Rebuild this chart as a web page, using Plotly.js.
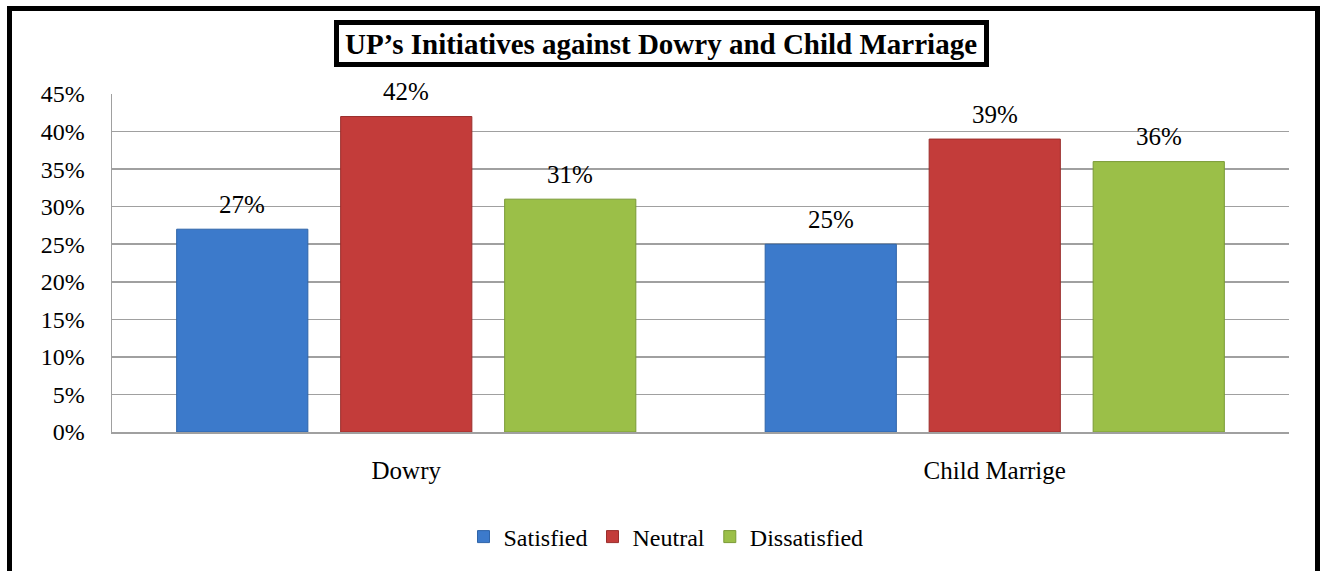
<!DOCTYPE html>
<html>
<head>
<meta charset="utf-8">
<script src="https://cdn.plot.ly/plotly-3.0.1.min.js"></script>
<style>
  html, body { margin: 0; padding: 0; background: #ffffff; }
  #wrap { position: relative; width: 1320px; height: 571px; overflow: hidden; }
  #chart { position: absolute; left: 0; top: 0; width: 1320px; height: 571px; }
  #frame { position: absolute; left: 7px; top: 6px; width: 1313px; height: 600px;
           border: 5px solid #000; border-bottom: none; box-sizing: border-box; pointer-events: none; }
</style>
</head>
<body>
<div id="wrap">
  <div id="chart"></div>
  <div id="frame"></div>
</div>
<script>
const categories = ["Dowry", "Child Marrige"];
const seriesNames = ["Satisfied", "Neutral", "Dissatisfied"];
const satisfied = [0.27, 0.25];
const neutral = [0.42, 0.39];
const dissatisfied = [0.31, 0.36];
const yTickVals = [0, 0.05, 0.10, 0.15, 0.20, 0.25, 0.30, 0.35, 0.40, 0.45];
const yTickText = ["0%", "5%", "10%", "15%", "20%", "25%", "30%", "35%", "40%", "45%"];
const titleText = "UP’s Initiatives against Dowry and Child Marriage";

const colors = ["#3c7acb", "#c33c3a", "#9bbf48"];
const lineColors = ["#2f64a8", "#9a2e2c", "#7a9a36"];
const values = [satisfied, neutral, dissatisfied];
const serif = "Liberation Serif, Times New Roman, serif";

const W = 1320, H = 571;
const M = { l: 112, r: 31, t: 94, b: 139 };
const plotW = W - M.l - M.r, plotH = H - M.t - M.b;
const bargap = 0.164, bargroupgap = 0.2;
const slot = (plotW / categories.length) * (1 - bargap) / seriesNames.length;

const traces = seriesNames.map((name, i) => ({
  type: "bar",
  name: name,
  x: categories,
  y: values[i],
  marker: { color: colors[i], line: { color: lineColors[i], width: 1 } },
  hoverinfo: "skip"
}));

const labelAnnotations = [];
seriesNames.forEach((name, i) => {
  values[i].forEach((v, j) => {
    labelAnnotations.push({
      x: categories[j], y: v, xref: "x", yref: "y",
      text: Math.round(v * 100) + "%",
      showarrow: false,
      xanchor: "center", yanchor: "middle",
      xshift: (i - (seriesNames.length - 1) / 2) * slot,
      yshift: 25,
      font: { family: serif, size: 25, color: "#000" }
    });
  });
});

// paper-coordinate helpers for the title frame
const px2x = px => (px - M.l) / plotW;
const py2y = py => (H - M.b - py) / plotH;

const layout = {
  width: W,
  height: H,
  margin: M,
  paper_bgcolor: "#ffffff",
  plot_bgcolor: "#ffffff",
  font: { family: serif, size: 24, color: "#000" },
  barmode: "group",
  bargap: bargap,
  bargroupgap: bargroupgap,
  title: {
    text: "<b>" + titleText + "</b>",
    font: { family: serif, size: 29, color: "#000" },
    xref: "paper", yref: "container",
    x: px2x(661), xanchor: "center",
    y: 1 - 44 / H, yanchor: "middle"
  },
  showlegend: true,
  legend: {
    orientation: "h",
    x: 666 / W, xanchor: "center",
    xref: "container", yref: "container",
    y: 1 - 537 / H, yanchor: "middle",
    font: { family: serif, size: 24, color: "#000" },
    itemwidth: 30,
    traceorder: "normal"
  },
  xaxis: {
    type: "category",
    showgrid: false,
    showline: true,
    linecolor: "#a0a0a0",
    linewidth: 2,
    ticks: "",
    ticklabelstandoff: 15,
    tickfont: { family: serif, size: 25, color: "#000" }
  },
  yaxis: {
    range: [0, 0.45],
    tickvals: yTickVals,
    ticktext: yTickText,
    showgrid: true,
    gridcolor: "#a0a0a0",
    gridwidth: 1.5,
    showline: true,
    linecolor: "#a0a0a0",
    linewidth: 1.5,
    zeroline: false,
    ticks: "",
    ticklabelstandoff: 21,
    tickfont: { family: serif, size: 24, color: "#000" }
  },
  shapes: [{
    type: "rect", xref: "paper", yref: "paper",
    x0: px2x(336.5), x1: px2x(986.5),
    y0: py2y(64.5), y1: py2y(22.5),
    line: { color: "#000", width: 5 },
    fillcolor: "rgba(0,0,0,0)",
    layer: "above"
  }],
  annotations: labelAnnotations
};

Plotly.newPlot("chart", traces, layout, { displayModeBar: false, staticPlot: true });
</script>
</body>
</html>
